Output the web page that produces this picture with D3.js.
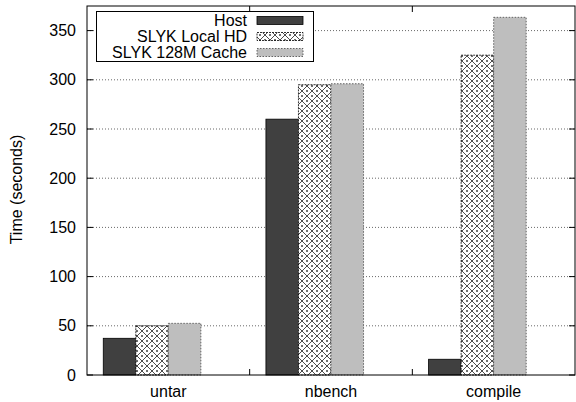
<!DOCTYPE html>
<html>
<head>
<meta charset="utf-8">
<script src="https://cdn.jsdelivr.net/npm/d3@7"></script>
<style>
  body { margin: 0; background: #fff; }
  svg { font-family: "Liberation Sans", Arial, sans-serif; }
</style>
</head>
<body>
<svg id="chart" width="576" height="402"></svg>
<script>
const categories = ["untar", "nbench", "compile"];
const seriesNames = ["Host", "SLYK Local HD", "SLYK 128M Cache"];
const hostValues = [37.3, 260, 16];
const localHdValues = [50, 295, 325];
const cacheValues = [52.5, 296, 363.5];
const yTicks = [0, 50, 100, 150, 200, 250, 300, 350];

const series = [hostValues, localHdValues, cacheValues];

const width = 576, height = 402;
const margin = { top: 6, right: 1, bottom: 27, left: 87 };
const plotW = width - margin.left - margin.right;
const plotH = height - margin.top - margin.bottom;
const fontSize = 16;

const svg = d3.select("#chart");

// crosshatch pattern for the local HD bars
const defs = svg.append("defs");
const P = 10;
const pat = defs.append("pattern")
  .attr("id", "xhatch")
  .attr("patternUnits", "userSpaceOnUse")
  .attr("width", P).attr("height", P);
pat.append("rect").attr("width", P).attr("height", P).attr("fill", "#fff");
pat.append("path")
  .attr("d", `M0,0 L${P},${P} M${P},0 L0,${P}`)
  .attr("stroke", "#000").attr("stroke-width", 0.7);
[[P / 2, 0], [P / 2, P], [0, P / 2], [P, P / 2]].forEach(([cx, cy]) => {
  pat.append("rect")
    .attr("x", cx - 0.75).attr("y", cy - 0.75).attr("width", 1.5).attr("height", 1.5)
    .attr("fill", "#000");
});

const g = svg.append("g").attr("transform", `translate(${margin.left},${margin.top})`);

const x = d3.scaleLinear().domain([-0.5, 2.5]).range([0, plotW]);
const y = d3.scaleLinear().domain([0, 375]).range([plotH, 0]);

const groupW = x(1) - x(0);
const slot = groupW / 5;

// grid
g.selectAll("line.grid")
  .data(yTicks.filter(d => d > 0))
  .enter().append("line")
  .attr("x1", 0).attr("x2", plotW)
  .attr("y1", d => y(d)).attr("y2", d => y(d))
  .attr("stroke", "#000").attr("stroke-width", 0.6)
  .attr("stroke-dasharray", "1,2");

const fills = ["#404040", "url(#xhatch)", "#bebebe"];
const strokes = [
  { c: "#000", dash: null },
  { c: "#000", dash: "2,1" },
  { c: "#444", dash: "1.5,1.5" }
];

series.forEach((vals, si) => {
  g.selectAll(`rect.s${si}`)
    .data(vals)
    .enter().append("rect")
    .attr("x", (d, i) => x(i) + (si - 2) * slot)
    .attr("y", d => y(d))
    .attr("width", slot)
    .attr("height", d => plotH - y(d))
    .attr("fill", fills[si])
    .attr("stroke", strokes[si].c)
    .attr("stroke-width", 0.8)
    .attr("stroke-dasharray", strokes[si].dash);
});

// border
g.append("rect")
  .attr("width", plotW).attr("height", plotH)
  .attr("fill", "none").attr("stroke", "#000").attr("stroke-width", 1);

// y ticks (left + mirror right)
g.selectAll("line.ytl")
  .data(yTicks).enter().append("line")
  .attr("x1", 0).attr("x2", 6)
  .attr("y1", d => y(d)).attr("y2", d => y(d))
  .attr("stroke", "#000");
g.selectAll("line.ytr")
  .data(yTicks).enter().append("line")
  .attr("x1", plotW - 6).attr("x2", plotW)
  .attr("y1", d => y(d)).attr("y2", d => y(d))
  .attr("stroke", "#000");
g.selectAll("text.yl")
  .data(yTicks).enter().append("text")
  .attr("x", -11).attr("y", d => y(d))
  .attr("dy", "0.35em")
  .attr("text-anchor", "end")
  .attr("font-size", fontSize)
  .text(d => d);

// x ticks at group boundaries
const xb = [0.5, 1.5];
g.selectAll("line.xtb")
  .data(xb).enter().append("line")
  .attr("x1", d => x(d)).attr("x2", d => x(d))
  .attr("y1", plotH).attr("y2", plotH - 6)
  .attr("stroke", "#000");
g.selectAll("line.xtt")
  .data(xb).enter().append("line")
  .attr("x1", d => x(d)).attr("x2", d => x(d))
  .attr("y1", 0).attr("y2", 6)
  .attr("stroke", "#000");
g.selectAll("text.xl")
  .data(categories).enter().append("text")
  .attr("x", (d, i) => x(i)).attr("y", plotH + 22)
  .attr("text-anchor", "middle")
  .attr("font-size", fontSize)
  .text(d => d);

// y label
svg.append("text")
  .attr("transform", `translate(22,189.5) rotate(-90)`)
  .attr("text-anchor", "middle")
  .attr("font-size", fontSize)
  .text("Time (seconds)");

// legend
const lg = svg.append("g");
lg.append("rect")
  .attr("x", 96.5).attr("y", 11.5).attr("width", 217).attr("height", 50)
  .attr("fill", "#fff").attr("stroke", "#000").attr("stroke-width", 1);
seriesNames.forEach((name, i) => {
  const cy = 20.5 + i * 16;
  lg.append("text")
    .attr("x", 247).attr("y", cy).attr("dy", "0.35em")
    .attr("text-anchor", "end").attr("font-size", fontSize)
    .text(name);
  lg.append("rect")
    .attr("x", 257).attr("y", cy - 4).attr("width", 46).attr("height", 8)
    .attr("fill", fills[i])
    .attr("stroke", strokes[i].c).attr("stroke-width", 0.8)
    .attr("stroke-dasharray", strokes[i].dash);
});
</script>
</body>
</html>
